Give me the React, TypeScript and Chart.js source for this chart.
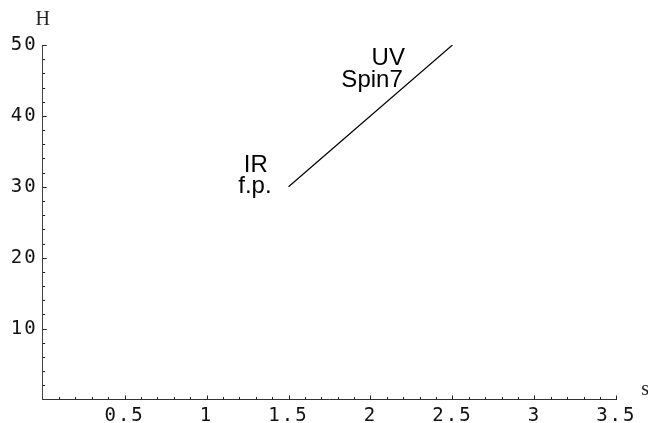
import React, { useEffect, useRef } from "react";
import { Chart, registerables } from "chart.js";

Chart.register(...registerables);

// Data
const lineS = [1.5, 2.5];
const lineH = [30, 50];

// Axis ranges / ticks
const xMin = 0;
const xMax = 3.5;
const xStep = 0.5;
const xMinorStep = 0.1;
const yMin = 0;
const yMax = 50;
const yStep = 10;
const yMinorStep = 2;

// Text annotations (data coordinates)
const noteTexts = ["IR", "f.p.", "UV", "Spin7"];
const noteX = [1.3, 1.295, 2.21, 2.197];
const noteY = [32.1, 29.1, 47.2, 44.1];
const noteAlign: CanvasTextAlign[] = ["center", "center", "right", "right"];

const xTitle = "s";
const yTitle = "H";

const tickFont = '"DejaVu Sans Mono", monospace';

const decorPlugin = {
  id: "decor",
  beforeDraw(chart: any) {
    (chart.ctx as any).letterSpacing = "2px";
  },
  afterDraw(chart: any) {
    const ctx = chart.ctx as CanvasRenderingContext2D;
    const xs = chart.scales.x;
    const ys = chart.scales.y;
    const x0 = xs.getPixelForValue(xMin);
    const y0 = ys.getPixelForValue(yMin);
    ctx.save();
    (ctx as any).letterSpacing = "0px";
    ctx.strokeStyle = "#222";
    ctx.lineWidth = 1;
    ctx.beginPath();
    // x ticks (inward, upward)
    const nx = Math.round((xMax - xMin) / xMinorStep);
    for (let i = 1; i <= nx; i++) {
      const v = xMin + i * xMinorStep;
      const major = i % Math.round(xStep / xMinorStep) === 0;
      const px = Math.round(xs.getPixelForValue(v)) + 0.5;
      ctx.moveTo(px, y0);
      ctx.lineTo(px, y0 - (major ? 4 : 2.5));
    }
    const ny = Math.round((yMax - yMin) / yMinorStep);
    for (let i = 1; i <= ny; i++) {
      const v = yMin + i * yMinorStep;
      const major = i % Math.round(yStep / yMinorStep) === 0;
      const py = Math.round(ys.getPixelForValue(v)) + 0.5;
      ctx.moveTo(x0, py);
      ctx.lineTo(x0 + (major ? 4 : 2.5), py);
    }
    ctx.stroke();

    // annotations
    ctx.fillStyle = "#000";
    ctx.font = '24px "Liberation Sans", Arial, sans-serif';
    ctx.textBaseline = "alphabetic";
    for (let i = 0; i < noteTexts.length; i++) {
      ctx.textAlign = noteAlign[i];
      ctx.fillText(noteTexts[i], xs.getPixelForValue(noteX[i]), ys.getPixelForValue(noteY[i]));
    }

    // axis titles
    ctx.font = '20px "Liberation Serif", "DejaVu Serif", serif';
    ctx.fillStyle = "#222";
    ctx.textAlign = "center";
    ctx.fillText(yTitle, x0, ys.getPixelForValue(yMax) - 20);
    ctx.textAlign = "left";
    ctx.fillText(xTitle, xs.getPixelForValue(xMax) + 25, y0 - 4.5);
    ctx.restore();
  },
};

export default function App() {
  const ref = useRef<HTMLCanvasElement | null>(null);
  useEffect(() => {
    document.body.style.margin = "0";
    const canvas = ref.current;
    if (!canvas) return;
    const chart = new Chart(canvas, {
      type: "scatter",
      data: {
        datasets: [
          {
            data: lineS.map((s, i) => ({ x: s, y: lineH[i] })),
            showLine: true,
            borderColor: "#000",
            borderWidth: 1.2,
            pointRadius: 0,
            fill: false,
          },
        ],
      },
      options: {
        responsive: false,
        animation: false,
        layout: { padding: { left: 0, top: 45, right: 31.7, bottom: 0 } },
        plugins: { legend: { display: false }, tooltip: { enabled: false } },
        scales: {
          x: {
            type: "linear",
            min: xMin,
            max: xMax,
            afterFit: (scale: any) => {
              scale.height = 23.5;
            },
            grid: { display: false, drawTicks: false, tickLength: 0 },
            border: { display: true, color: "#333", width: 1 },
            ticks: {
              stepSize: xStep,
              padding: 5,
              color: "#111",
              font: { family: tickFont, size: 19 },
              maxRotation: 0,
              autoSkip: false,
              callback: (v: any) => (Number(v) === 0 ? "" : String(Number(v))),
            },
          },
          y: {
            type: "linear",
            min: yMin,
            max: yMax,
            afterFit: (scale: any) => {
              scale.width = 42.7;
            },
            grid: { display: false, drawTicks: false, tickLength: 0 },
            border: { display: true, color: "#444", width: 1 },
            ticks: {
              stepSize: yStep,
              padding: 5,
              color: "#111",
              font: { family: tickFont, size: 19 },
              callback: (v: any) => (Number(v) === 0 ? "" : String(Number(v))),
            },
          },
        },
      },
      plugins: [decorPlugin],
    });
    return () => chart.destroy();
  }, []);
  return (
    <div style={{ position: "absolute", left: 0, top: 0, width: 648, height: 423, background: "#fff" }}>
      <canvas ref={ref} width={648} height={423} style={{ width: 648, height: 423 }} />
    </div>
  );
}
